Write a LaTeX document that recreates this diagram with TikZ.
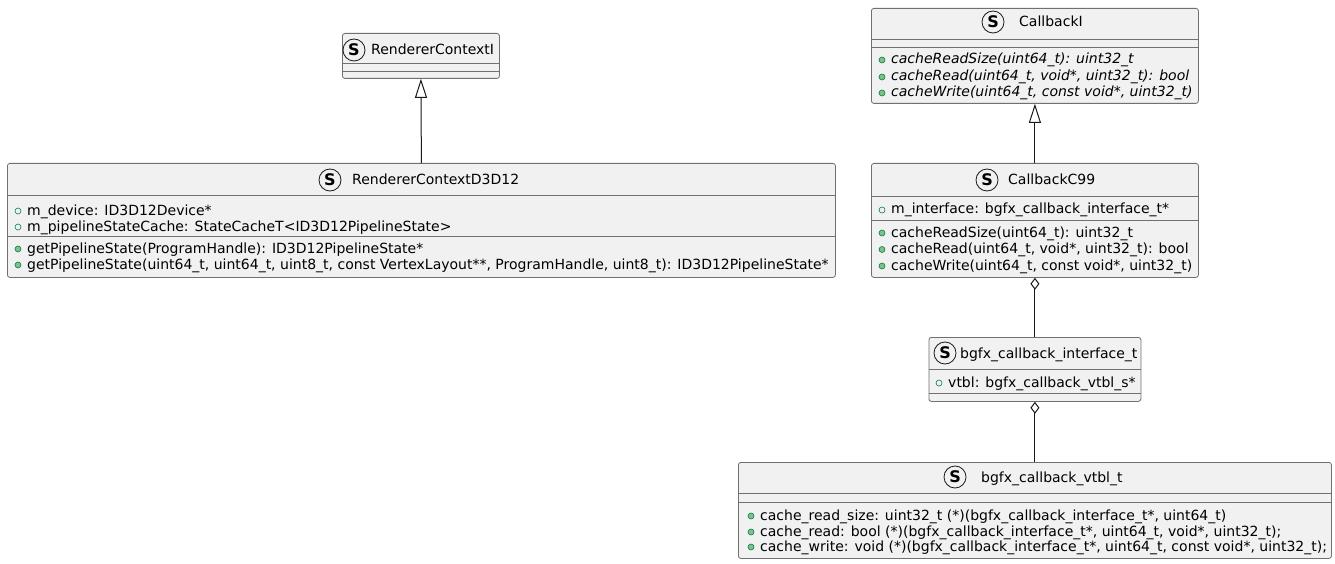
\documentclass[tikz,border=0pt]{standalone}
\usepackage{fontspec}
\setmainfont{DejaVu Sans}
\usepackage{xcolor}
\usetikzlibrary{arrows.meta,positioning}

\definecolor{boxfill}{HTML}{F1F1F1}
\definecolor{boxline}{HTML}{707070}
\definecolor{spotline}{HTML}{181818}
\definecolor{markline}{HTML}{038048}
\definecolor{markfill}{HTML}{84BE84}

\newcommand{\umlfont}{\fontsize{14}{16}\selectfont}
\newcommand{\spotfont}{\fontsize{16}{16}\selectfont\bfseries}

% visibility marks in front of a member line
\newcommand{\fieldicon}[1]{\draw[fieldmark] ([shift={(-9pt,4pt)}]#1.base west) circle (3pt);}
\newcommand{\methodicon}[1]{\draw[methodmark] ([shift={(-9pt,4pt)}]#1.base west) circle (3pt);}

\tikzset{
  umlbox/.style={draw=boxline, fill=boxfill, line width=0.8pt, rounded corners=2.5pt, anchor=north west, inner sep=0pt},
  spot/.style={circle, draw=spotline, line width=0.8pt, minimum size=22pt, inner sep=0pt, font=\spotfont},
  title/.style={anchor=base west, inner sep=0pt, font=\umlfont},
  member/.style={anchor=base west, inner sep=0pt, font=\umlfont},
  fieldmark/.style={draw=markline, line width=0.6pt},
  methodmark/.style={draw=markline, fill=markfill, line width=0.6pt},
  sep/.style={draw=boxline, line width=0.8pt},
  extends/.style={draw=spotline, line width=1pt, -{Triangle[open, length=19pt, width=12pt]}},
  hasa/.style={draw=spotline, line width=1pt, {Diamond[open, length=12pt, width=9pt]}-},
}

\begin{document}
\begin{tikzpicture}[x=1pt, y=-1pt]
        \useasboundingbox[fill=white] (0,0) rectangle (1335,564);

        % RendererContextI
        \node[umlbox, minimum width=157pt, minimum height=45pt] (rci) at (342,33) {};
        \draw[sep] (rci.west |- 0,63) -- (rci.east |- 0,63);
        \draw[sep] (rci.west |- 0,71) -- (rci.east |- 0,71);
        \node[spot] (rci-spot) at (354,50) {S};
        \node[title] (rci-title) at (371,55) {RendererContextI};

        % RendererContextD3D12
        \node[umlbox, minimum width=828pt, minimum height=114pt] (d3d) at (7,163) {};
        \draw[sep] (d3d.west |- 0,195) -- (d3d.east |- 0,195);
        \draw[sep] (d3d.west |- 0,236) -- (d3d.east |- 0,236);
        \node[spot] (d3d-spot) at (330,180) {S};
        \node[title] (d3d-title) at (352,185) {RendererContextD3D12};
        \node[member] (d3d-f1) at (27,215) {m\_device: ID3D12Device*};
        \node[member] (d3d-f2) at (27,231) {m\_pipelineStateCache: StateCacheT<ID3D12PipelineState>};
        \node[member] (d3d-m1) at (27,253) {getPipelineState(ProgramHandle): ID3D12PipelineState*};
        \node[member] (d3d-m2) at (27,269) {getPipelineState(uint64\_t, uint64\_t, uint8\_t, const VertexLayout**, ProgramHandle, uint8\_t): ID3D12PipelineState*};
        \fieldicon{d3d-f1} \fieldicon{d3d-f2}
        \methodicon{d3d-m1} \methodicon{d3d-m2}

        % CallbackI
        \node[umlbox, minimum width=327pt, minimum height=95pt] (cbi) at (871,8) {};
        \draw[sep] (cbi.west |- 0,39) -- (cbi.east |- 0,39);
        \draw[sep] (cbi.west |- 0,47) -- (cbi.east |- 0,47);
        \node[spot] (cbi-spot) at (993,22) {S};
        \node[title] (cbi-title) at (1019,27) {CallbackI};
        \node[member, font=\umlfont\itshape] (cbi-m1) at (891,64) {cacheReadSize(uint64\_t): uint32\_t};
        \node[member, font=\umlfont\itshape] (cbi-m2) at (891,81) {cacheRead(uint64\_t, void*, uint32\_t): bool};
        \node[member, font=\umlfont\itshape] (cbi-m3) at (891,97) {cacheWrite(uint64\_t, const void*, uint32\_t)};
        \methodicon{cbi-m1} \methodicon{cbi-m2} \methodicon{cbi-m3}

        % CallbackC99
        \node[umlbox, minimum width=327pt, minimum height=114pt] (c99) at (871,163) {};
        \draw[sep] (c99.west |- 0,196) -- (c99.east |- 0,196);
        \draw[sep] (c99.west |- 0,220) -- (c99.east |- 0,220);
        \node[spot] (c99-spot) at (987,180) {S};
        \node[title] (c99-title) at (1008,185) {CallbackC99};
        \node[member] (c99-f1) at (891,214) {m\_interface: bgfx\_callback\_interface\_t*};
        \node[member] (c99-m1) at (891,237) {cacheReadSize(uint64\_t): uint32\_t};
        \node[member] (c99-m2) at (891,253.5) {cacheRead(uint64\_t, void*, uint32\_t): bool};
        \node[member] (c99-m3) at (891,270) {cacheWrite(uint64\_t, const void*, uint32\_t)};
        \fieldicon{c99-f1}
        \methodicon{c99-m1} \methodicon{c99-m2} \methodicon{c99-m3}

        % bgfx_callback_interface_t
        \node[umlbox, minimum width=212pt, minimum height=64pt] (iface) at (928.5,337) {};
        \draw[sep] (iface.west |- 0,369) -- (iface.east |- 0,369);
        \draw[sep] (iface.west |- 0,393) -- (iface.east |- 0,393);
        \node[spot] (iface-spot) at (945,353) {S};
        \node[title] (iface-title) at (960,358) {bgfx\_callback\_interface\_t};
        \node[member] (iface-f1) at (948,387) {vtbl: bgfx\_callback\_vtbl\_s*};
        \fieldicon{iface-f1}

        % bgfx_callback_vtbl_t
        \node[umlbox, minimum width=593pt, minimum height=96pt] (vtbl) at (738,462) {};
        \draw[sep] (vtbl.west |- 0,493) -- (vtbl.east |- 0,493);
        \draw[sep] (vtbl.west |- 0,502) -- (vtbl.east |- 0,502);
        \node[spot] (vtbl-spot) at (955,477) {S};
        \node[title] (vtbl-title) at (981,482) {bgfx\_callback\_vtbl\_t};
        \node[member] (vtbl-m1) at (760,520) {cache\_read\_size: uint32\_t (*)(bgfx\_callback\_interface\_t*, uint64\_t)};
        \node[member] (vtbl-m2) at (760,536) {cache\_read: bool (*)(bgfx\_callback\_interface\_t*, uint64\_t, void*, uint32\_t);};
        \node[member] (vtbl-m3) at (760,551) {cache\_write: void (*)(bgfx\_callback\_interface\_t*, uint64\_t, const void*, uint32\_t);};
        \methodicon{vtbl-m1} \methodicon{vtbl-m2} \methodicon{vtbl-m3}

        % Draw the relations
        \draw[extends] (d3d.north) -- (rci.south);
        \draw[extends] (c99.north) -- (cbi.south);
        \draw[hasa] (c99.south) -- (iface.north);
        \draw[hasa] (iface.south) -- (vtbl.north);
    \end{tikzpicture}
\end{document}
